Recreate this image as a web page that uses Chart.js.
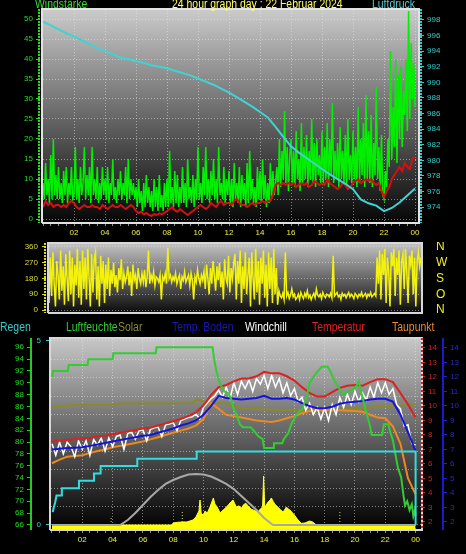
<!DOCTYPE html>
<html><head><meta charset="utf-8">
<script src="https://cdn.jsdelivr.net/npm/chart.js@4.4.1/dist/chart.umd.min.js"></script>
<style>
html,body{margin:0;padding:0;background:#000;width:466px;height:554px;overflow:hidden;position:relative;}
canvas{position:absolute;left:0;z-index:1;}
.t{position:absolute;z-index:5;font-family:"Liberation Sans",Arial,sans-serif;font-size:12px;line-height:12px;white-space:nowrap;transform:scaleX(0.87);transform-origin:0 0;}
</style></head><body>
<canvas id="c1" width="466" height="242" style="top:0px;width:466px;height:242px"></canvas>
<canvas id="c2" width="466" height="73" style="top:242px;width:466px;height:73px"></canvas>
<canvas id="c3" width="466" height="239" style="top:315px;width:466px;height:239px"></canvas>
<div class="t" style="left:35px;top:-2px;color:#33dd33">Windstärke</div>
<div class="t" style="left:172px;top:-2px;color:#ffff66">24 hour graph day : 22 Februar 2024</div>
<div class="t" style="left:372px;top:-2px;color:#55cccc">Luftdruck</div>
<div class="t" style="left:0px;top:321px;color:#33cccc">Regen</div>
<div class="t" style="left:66px;top:321px;color:#33cc33">Luftfeuchte</div>
<div class="t" style="left:118px;top:321px;color:#8a8a3a">Solar</div>
<div class="t" style="left:172px;top:321px;color:#1818b8">Temp. Boden</div>
<div class="t" style="left:245px;top:321px;color:#ffffff">Windchill</div>
<div class="t" style="left:312px;top:321px;color:#dd2222">Temperatur</div>
<div class="t" style="left:392px;top:321px;color:#ee8833">Taupunkt</div>
<script>
// ---------------- tick labels ----------------
const majorHours = [2,4,6,8,10,12,14,16,18,20,22,24];
const hourLabels = ['02','04','06','08','10','12','14','16','18','20','22','00'];
const windTicks = [0,5,10,15,20,25,30,35,40,45,50];
const pressureTicks = [974,976,978,980,982,984,986,988,990,992,994,996,998];
const dirTicks = [0,90,180,270,360];
const compassLabels = ['N','O','S','W','N'];
const humTicks = [66,68,70,72,74,76,78,80,82,84,86,88,90,92,94,96];
const rainTicks = [0,0.5,1,1.5,2,2.5,3,3.5,4,4.5,5];
const rainLabelled = [0,5];
const tempTicks = [2,3,4,5,6,7,8,9,10,11,12,13,14];

// ---------------- top panel: wind (5 / 10 min), pressure (30 min) ----------------
const windGust5 = [
 9,5,14,6,10,4,16,5,20,6,11,5,
 13,5,9,4,12,6,13,4,9,6,13,5,
 6,18,5,10,4,13,6,9,18,5,11,6,
 13,4,18,6,10,5,13,4,9,5,13,6,
 10,5,13,4,9,6,15,5,8,4,10,6,
 12,5,9,6,13,4,15,5,10,6,9,5,
 8,3,10,4,7,2,9,3,11,4,8,3,
 7,2,10,3,8,2,11,3,6,2,9,3,
 10,3,17,4,8,3,12,4,11,3,8,4,
 13,4,9,3,15,5,8,4,11,3,10,5,
 18,5,9,4,13,6,18,5,10,4,12,6,
 15,5,10,4,18,6,9,5,13,4,10,6,
 12,4,10,3,14,5,9,4,13,3,11,5,
 9,3,14,4,17,5,10,4,8,3,13,5,
 12,4,15,5,11,3,9,4,14,5,12,6,
 9,13,6,20,8,17,10,27,9,18,7,16,
 20,9,17,8,22,10,15,7,24,9,18,10,
 21,8,17,10,25,9,19,8,20,11,16,9,
 22,9,18,10,24,8,20,11,29,9,17,10,
 19,8,23,10,17,9,21,8,25,10,16,9,
 22,10,18,8,28,9,20,11,24,8,31,10,
 22,9,26,8,19,11,33,10,18,7,21,6,
 5,12,8,20,13,42,15,28,18,40,14,36,
 20,38,18,32,26,40,22,52,25,44,30,39,
 28];
const windAvg10 = [
 3,4.5,3.5,4,3,3.5,
 3.5,3,3.5,3,4,4.5,
 4,3,2.5,3,3.5,3,
 3,3.5,3,3,2.5,3.5,
 3,2.5,3,3.5,3,3,
 3.5,3,2.5,3,3.5,3,
 2,1.5,1.8,1.2,1.5,1,
 0.8,1.2,1,1.4,1.2,1.5,
 2,2.5,3,2.2,1.8,2.5,
 2,1.5,1,1.5,2,2.5,
 3,3.5,3,2.5,3,4,
 3.5,3,4,4.5,3.5,4,
 4,3.5,4.5,5,4,3.5,
 3.5,3,3.5,4,3.5,4,
 4,4.5,4,4.5,4.5,6,
 8.5,9,8.5,9,8.5,9,
 8.5,9,8,8.5,9,8.5,
 9,8,8.5,9.5,9,8.5,
 9,8.5,10,9,8.5,8,
 7.5,8,9,8.5,7.5,8,
 9,9.5,10,9,9.5,10,
 9.5,10,9,8.5,9,7,
 5.5,7,8,10,11,12,
 13,12,14,13,12.5,15,
 15.5];
const pressure30 = [997.8,997.3,996.8,996.3,995.9,995.4,994.9,994.4,994.0,993.6,993.2,993.0,992.7,992.5,992.2,992.0,991.8,991.5,991.2,990.9,990.5,990.1,989.7,989.2,988.7,988.1,987.5,986.9,986.2,985.5,984.3,983.0,981.8,981.0,980.3,979.6,978.9,978.2,977.6,977.0,976.3,975.0,974.5,974.2,973.5,973.9,974.6,975.5,976.4];

// ---------------- middle panel: wind direction (5 min) ----------------
const windDir5 = [
 40,300,80,330,150,20,280,200,60,340,110,250,
 30,320,180,50,340,90,300,20,260,140,350,70,
 280,30,340,120,300,60,350,190,20,320,100,290,
 330,60,250,20,310,150,280,40,260,120,300,80,
 230,150,270,130,200,100,240,170,290,120,210,160,
 190,250,140,220,80,260,170,200,120,240,180,150,
 210,160,230,130,190,340,150,200,170,220,140,190,
 180,160,200,60,190,170,210,150,355,180,200,160,
 190,170,210,150,180,200,120,190,170,220,160,180,
 200,140,210,170,60,190,160,230,180,150,200,170,
 220,120,260,180,90,240,150,280,200,110,250,170,
 270,130,220,60,290,180,150,310,100,240,180,270,
 320,60,280,150,340,40,250,120,330,90,200,300,
 20,330,180,60,350,100,280,30,300,150,340,70,
 260,20,330,120,300,40,350,90,240,30,110,80,
 70,95,60,330,80,100,65,85,120,75,90,60,
 70,90,60,100,80,65,95,75,110,70,85,60,
 80,95,70,120,85,75,90,65,100,80,70,90,
 85,75,95,70,310,80,90,100,75,85,60,95,
 80,90,70,85,100,75,90,80,65,95,85,70,
 90,80,100,75,85,95,70,90,80,100,75,85,
 95,80,300,150,340,60,320,200,350,40,300,220,
 20,330,250,350,80,300,200,340,30,280,320,120,
 350,220,40,310,260,340,90,300,20,280,330,250,
 300];

// ---------------- bottom panel ----------------
const temp30 = [7.55,7.6,7.65,7.7,7.75,7.8,7.9,7.95,8.05,8.15,8.25,8.35,8.45,8.5,8.65,8.8,8.95,9.1,9.3,9.55,10.05,10.75,11.3,11.45,11.7,11.9,11.9,12.05,12.35,12.25,12.25,12.05,11.75,11.3,10.9,10.65,10.65,10.95,11.25,11.4,11.45,11.4,11.65,11.85,11.85,11.65,10.9,10.1,9.2];
const soil30 = [7.0,7.05,7.1,7.12,7.15,7.25,7.35,7.45,7.55,7.65,7.75,7.85,7.95,8.0,8.15,8.3,8.45,8.65,8.8,9.0,9.4,10.0,10.7,10.55,10.5,10.45,10.5,10.55,10.7,10.5,10.5,10.55,10.45,10.2,10.0,9.85,9.85,9.95,10.15,10.25,10.3,10.35,10.45,10.5,10.5,10.3,9.4,8.2,6.9];
const dew30 = [6.05,6.3,6.5,6.55,6.6,6.75,6.9,7.0,7.15,7.25,7.35,7.45,7.55,7.7,7.85,8.0,8.15,8.3,8.45,8.65,9.1,10.2,9.8,9.4,9.3,9.2,9.1,9.0,8.95,8.9,9.0,9.15,9.3,9.5,9.65,9.7,9.7,9.7,9.7,9.68,9.65,9.6,9.4,9.2,9.15,8.6,7.4,5.0,3.9];
const windchill15 = [7.4,6.6,7.5,6.7, 7.5,7.2,6.5,7.6, 7.0,7.6,6.6,7.7, 7.3,7.8,6.9,7.8, 7.2,7.9,8.0,7.0, 8.1,8.2,7.7,8.3, 8.35,7.6,8.4,8.5, 8.55,7.9,8.7,8.75, 8.85,8.3,9.0,9.1, 9.2,9.25,9.45,9.1, 9.9,10.2,10.5,10.7, 11.1,10.6,11.3,10.5, 11.6,10.8,11.7,11.2, 11.8,11.0,11.9,11.5, 12.1,11.2,12.1,11.3, 11.9,10.9,11.6,10.7, 11.2,10.3,10.6,9.7, 10.2,9.4,9.9,9.1, 9.9,9.0,10.1,9.4, 10.6,9.9,10.8,10.1, 11.0,10.3,10.9,10.4, 11.3,10.6,11.6,10.9, 11.6,10.8,11.2,10.1, 9.8,8.6,8.7,7.4, 7.3];
const humHours = [0,0.08,1.05,1.1,2.35,2.4,4.0,4.05,6.85,6.9,10.6,10.7,10.85,11.0,11.2,11.4,11.6,11.8,12.0,12.2,12.4,12.6,13.1,13.3,13.6,13.9,14.0,14.6,14.65,15.2,15.3,15.6,15.8,16.1,16.5,16.8,17.0,17.4,17.8,18.2,18.4,18.6,18.9,19.2,19.5,19.8,20.1,20.25,20.4,20.6,20.8,21.0,21.1,21.8,21.9,22.2,22.35,22.5,22.7,22.85,23.05,23.2,23.3,23.45,23.6,23.75,23.85,23.95,24];
const humValues = [91,92,92,93,93,94,94,95,95,96,96,94,92,90.5,89.3,88.5,88.3,87.5,85.5,84.5,83,82.5,82.5,82,81,80.5,79,79,79.8,79.8,80.5,81.5,83,84.5,85.5,87.5,90,91.5,92.7,92.7,91.8,90.5,89.3,88,88.5,88.8,89.5,90.2,88.5,86.5,84.5,82.6,81.2,81.2,83,83,81.5,80.3,77.5,75.5,74,71,69.3,70,68.5,69.5,67.5,68.5,67.5];
const oliveHours = [0,0.9,1.1,4.0,4.5,9.3,9.45,9.6,9.75,10.0,10.5,11.5,12.0,13.0,15.0,17.0,19.0,20.5,22.0,23.0,24];
const oliveValues = [86.0,86.0,86.2,86.3,86.5,86.6,87.0,87.2,87.1,86.8,86.6,86.6,86.0,85.6,85.4,85.3,85.5,85.8,86.0,86.2,86.3];
const rainHours = [0.05,0.1,0.2,0.3,0.6,0.65,1.78,1.78,2.77,2.77,3.21,3.21,5.63,5.63,9.55,9.55,24,24];
const rainValues = [0.35,0.45,0.6,0.8,0.8,1.0,1.0,1.2,1.2,1.4,1.4,1.6,1.6,1.8,1.8,2.0,2.0,0];
const solarHours = [0,7.9,8.0,8.3,8.6,8.9,9.3,9.5,9.7,9.77,9.85,10.0,10.1,10.25,10.4,10.55,10.65,10.75,10.9,11.1,11.3,11.45,11.64,11.8,11.95,12.05,12.17,12.35,12.5,12.65,12.8,13.0,13.15,13.27,13.45,13.6,13.75,13.9,13.97,14.04,14.1,14.26,14.4,14.48,14.6,14.7,14.9,15.1,15.25,15.35,15.47,15.6,15.7,15.9,16.0,16.24,16.46,16.7,16.85,17.0,17.2,17.45,24];
const solarValues = [0,0,16,21,24,24,39,63,110,196,90,78,110,94,133,180,212,165,141,94,118,133,157,180,196,170,141,150,131,160,170,141,125,118,110,102,125,141,384,141,150,180,196,212,185,165,141,118,102,118,141,125,118,92,78,39,13,16,24,31,24,0,0];
const arcHours = [0,4.5,5,5.5,6,6.5,7,7.5,8,8.5,9,9.5,10,10.5,11,11.5,12,12.5,13,13.5,14,14.5,14.6,24];
const arcValues = [0,0,39,94,157,220,275,322,353,376,396,400,396,380,353,322,282,227,173,118,55,8,0,0];
const markerHours = [3.9,3.9,3.95,8.6,8.6,8.65,19.0,19.0];
const markerValues = [0,55,null,0,118,null,0,118];

// ---------------- helpers ----------------
const FONT = '"Liberation Sans", Arial, sans-serif';
const GRID = 'rgba(235,235,235,0.5)';
const NONE = 'rgba(0,0,0,0)';
Chart.defaults.font.family = FONT;
Chart.defaults.elements.point.radius = 0;
Chart.defaults.elements.line.tension = 0;
Chart.defaults.animation = false;

const seq = (vals, stepH) => vals.map((y, i) => ({x: i * stepH, y}));
const pts = (xs, ys) => ys.map((y, i) => ({x: xs[i], y}));
const setTicks = arr => s => { s.ticks = arr.map(v => ({value: v})); };
const setW = w => s => { s.width = w; s.paddingTop = 0; s.paddingBottom = 0; };
const setH = h => s => { s.height = h; s.paddingLeft = 0; s.paddingRight = 0; };

const hourTickValues = [];
for (let i = 0; i <= 48; i++) hourTickValues.push(i / 2);

function xAxis(min, max, h) {
  return {
    type: 'linear', position: 'bottom', min, max,
    afterBuildTicks: setTicks(hourTickValues),
    afterFit: setH(h),
    grid: {
      color: c => (c.tick && c.tick.value > 0 && c.tick.value % 2 === 0) ? GRID : NONE,
      tickColor: '#8c8c8c', tickLength: 4, lineWidth: 1
    },
    border: {display: false, dash: [1, 2]},
    ticks: {
      color: '#eeee44', font: {size: 8}, padding: 2, autoSkip: false, maxRotation: 0,
      callback: v => { const k = majorHours.indexOf(v); return k >= 0 ? hourLabels[k] : ''; }
    }
  };
}
function dummy(pos, w) {
  return {type: 'linear', position: pos, weight: 0, afterFit: setW(w),
    grid: {display: false, drawTicks: false}, ticks: {display: false}, border: {display: false}};
}

const panelPlugin = {
  id: 'panel',
  beforeDraw(chart, args, o) {
    const {ctx, chartArea: a} = chart;
    ctx.save();
    ctx.fillStyle = '#000';
    ctx.fillRect(0, 0, chart.width, chart.height);
    const g = ctx.createLinearGradient(0, a.top, 0, a.bottom);
    g.addColorStop(0, o.top); g.addColorStop(1, o.bottom);
    ctx.fillStyle = g;
    ctx.fillRect(a.left, a.top, a.right - a.left, a.bottom - a.top);
    ctx.restore();
  },
  beforeDatasetsDraw(chart, args, o) {
    const {ctx, chartArea: a} = chart;
    ctx.save();
    ctx.strokeStyle = o.frame; ctx.lineWidth = 2;
    ctx.beginPath();
    ctx.moveTo(a.left - 1, a.bottom + 1); ctx.lineTo(a.left - 1, a.top - 1);
    ctx.lineTo(a.right + 1, a.top - 1); ctx.lineTo(a.right + 1, a.bottom + 1);
    ctx.lineTo(a.left - 1, a.bottom + 1);
    ctx.stroke();
    ctx.restore();
  },
  afterDraw(chart, args, o) {
    const {ctx, chartArea: a} = chart;
    (o.lines || []).forEach(l => {
      const s = chart.scales[l.scale];
      const x = l.side === 'right' ? s.right - l.width / 2 : s.left + l.width / 2;
      ctx.save();
      ctx.strokeStyle = l.color; ctx.lineWidth = l.width; ctx.setLineDash(l.dash);
      ctx.beginPath(); ctx.moveTo(x, a.top - 1); ctx.lineTo(x, a.bottom + 1); ctx.stroke();
      ctx.restore();
    });
  }
};
const basePlugins = {legend: {display: false}, tooltip: {enabled: false}};

// ---------------- chart 1 ----------------
new Chart(document.getElementById('c1'), {
  type: 'line',
  data: {datasets: [
    {data: seq(pressure30, 0.5), xAxisID: 'x', yAxisID: 'yP', borderColor: '#3fd4d4', borderWidth: 2},
    {data: seq(windAvg10, 1 / 6), xAxisID: 'x', yAxisID: 'yW', borderColor: '#d41010', borderWidth: 2},
    {data: seq(windGust5, 1 / 12), xAxisID: 'x', yAxisID: 'yW', borderColor: '#00f000', borderWidth: 1.5}
  ]},
  options: {
    responsive: false, devicePixelRatio: 1, animation: false,
    layout: {padding: {top: 10, left: 0, right: 0, bottom: 0}},
    plugins: Object.assign({}, basePlugins, {panel: {top: '#cacaca', bottom: '#060606', frame: '#e2e2e2',
      lines: [{scale: 'yW', side: 'right', color: '#22dd22', width: 2, dash: [2, 1]},
              {scale: 'yP', side: 'left', color: '#33cccc', width: 2, dash: [2, 1]}]}}),
    scales: {
      x: xAxis(0, 24.19, 20),
      yW: {type: 'linear', position: 'left', weight: 1, min: -0.75, max: 52.25,
        afterFit: setW(40), afterBuildTicks: setTicks(windTicks),
        grid: {color: GRID, tickColor: '#22dd22', tickLength: 4},
        border: {display: false, dash: [1, 2]},
        ticks: {color: '#22dd22', font: {size: 8}, padding: 3, autoSkip: false}},
      padL: dummy('left', 3),
      padR: dummy('right', 2),
      yP: {type: 'linear', position: 'right', weight: 1, min: 972.1, max: 999.28,
        afterFit: setW(46), afterBuildTicks: setTicks(pressureTicks),
        grid: {drawOnChartArea: false, tickColor: '#33cccc', tickLength: 4},
        border: {display: false},
        ticks: {color: '#33cccc', font: {size: 8}, padding: 3, autoSkip: false}}
    }
  },
  plugins: [panelPlugin]
});

// ---------------- chart 2 ----------------
new Chart(document.getElementById('c2'), {
  type: 'line',
  data: {datasets: [
    {data: seq(windDir5, 1 / 12), xAxisID: 'x', yAxisID: 'yD', borderColor: '#f2f20c', borderWidth: 1.5}
  ]},
  options: {
    responsive: false, devicePixelRatio: 1, animation: false,
    layout: {padding: {top: 2, left: 0, right: 0, bottom: 3}},
    plugins: Object.assign({}, basePlugins, {panel: {top: '#c2c2c2', bottom: '#0c0c0c', frame: '#d8d8d8',
      lines: [{scale: 'yD', side: 'right', color: '#dddd22', width: 2, dash: [2, 1]}]}}),
    scales: {
      x: {type: 'linear', display: false, min: 0, max: 24},
      yD: {type: 'linear', position: 'left', weight: 1, min: -11.4, max: 377,
        afterFit: setW(46), afterBuildTicks: setTicks(dirTicks),
        grid: {color: GRID, tickColor: '#dddd22', tickLength: 4},
        border: {display: false, dash: [1, 2]},
        ticks: {color: '#dddd33', font: {size: 8}, padding: 4, autoSkip: false}},
      padL: dummy('left', 3),
      yC: {type: 'linear', position: 'right', weight: 1, min: -11.4, max: 377,
        afterFit: setW(45), afterBuildTicks: setTicks(dirTicks),
        grid: {display: false, drawTicks: false},
        border: {display: false},
        ticks: {color: '#eeee22', font: {size: 12}, padding: 15, autoSkip: false, callback: (v, i) => compassLabels[i]}}
    }
  },
  plugins: [panelPlugin]
});

// ---------------- chart 3 ----------------
new Chart(document.getElementById('c3'), {
  type: 'line',
  data: {datasets: [
    {data: pts(rainHours, rainValues), xAxisID: 'x', yAxisID: 'yR', borderColor: '#33dddd', borderWidth: 2},
    {data: pts(humHours, humValues), xAxisID: 'x', yAxisID: 'yH', borderColor: '#33cc33', borderWidth: 2},
    {data: seq(soil30, 0.5), xAxisID: 'x', yAxisID: 'yT', borderColor: '#1414dc', borderWidth: 2},
    {data: seq(temp30, 0.5), xAxisID: 'x', yAxisID: 'yT', borderColor: '#dd2020', borderWidth: 2},
    {data: seq(windchill15, 0.25), xAxisID: 'x', yAxisID: 'yT', borderColor: '#ffffff', borderWidth: 1.5},
    {data: seq(dew30, 0.5), xAxisID: 'x', yAxisID: 'yT', borderColor: '#ee8820', borderWidth: 2},
    {data: pts(oliveHours, oliveValues), xAxisID: 'x', yAxisID: 'yH', borderColor: '#8a8a2a', borderWidth: 2},
    {data: pts(arcHours, arcValues), xAxisID: 'x', yAxisID: 'yS', borderColor: '#a8a8a8', borderWidth: 2},
    {data: pts(markerHours, markerValues), xAxisID: 'x', yAxisID: 'yS', borderColor: '#e0e060', borderWidth: 1, borderDash: [1, 2], spanGaps: false},
    {data: pts(solarHours, solarValues), xAxisID: 'x', yAxisID: 'yS', borderColor: '#ffff22', backgroundColor: '#ffff00', borderWidth: 1, fill: 'start'}
  ]},
  options: {
    responsive: false, devicePixelRatio: 1, animation: false,
    layout: {padding: {top: 24, left: 0, right: 0, bottom: 0}},
    plugins: Object.assign({}, basePlugins, {panel: {top: '#c6c6c6', bottom: '#000000', frame: '#d8d8d8',
      lines: [{scale: 'yT', side: 'left', color: '#dd2222', width: 2, dash: [2, 2]}]}}),
    scales: {
      x: xAxis(-0.066, 24.357, 25),
      yH: {type: 'linear', position: 'left', weight: 1, min: 65.31, max: 97.40,
        afterFit: setW(31), afterBuildTicks: setTicks(humTicks),
        grid: {drawOnChartArea: false, tickColor: '#22cc22', tickLength: 4},
        border: {display: true, color: '#22cc22', width: 2},
        ticks: {color: '#22dd22', font: {size: 8}, padding: 3, autoSkip: false}},
      yR: {type: 'linear', position: 'left', weight: 0, min: -0.109, max: 5.054,
        afterFit: setW(20), afterBuildTicks: setTicks(rainTicks),
        grid: {color: GRID, tickColor: c => (c.tick && rainLabelled.includes(c.tick.value)) ? '#33cccc' : NONE, tickLength: 5},
        border: {display: false, dash: [1, 2]},
        ticks: {color: '#33cccc', font: {size: 8}, padding: 5, autoSkip: false, callback: v => rainLabelled.includes(v) ? String(v) : ''}},
      yT: {type: 'linear', position: 'right', weight: 0, min: 1.517, max: 14.62,
        afterFit: setW(22), afterBuildTicks: setTicks(tempTicks),
        grid: {drawOnChartArea: false, tickColor: '#cc2020', tickLength: 4},
        border: {display: false},
        ticks: {color: '#cc2222', font: {size: 8}, padding: 3, autoSkip: false}},
      yB: {type: 'linear', position: 'right', weight: 1, min: 1.517, max: 14.62,
        afterFit: setW(23), afterBuildTicks: setTicks(tempTicks),
        grid: {drawOnChartArea: false, tickColor: '#2020cc', tickLength: 4},
        border: {display: true, color: '#1a1acc', width: 2},
        ticks: {color: '#2a2acc', font: {size: 8}, padding: 3, autoSkip: false}},
      yS: {type: 'linear', display: false, min: -31.4, max: 1459}
    }
  },
  plugins: [panelPlugin]
});
</script>
</body></html>
